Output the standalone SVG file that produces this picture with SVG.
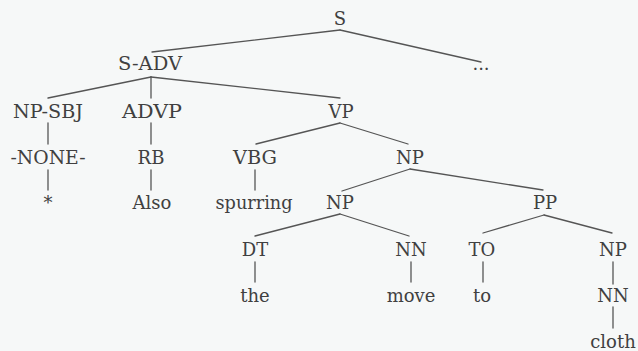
<svg xmlns="http://www.w3.org/2000/svg" width="638" height="351" viewBox="0 0 638 351">
  <style>
    .bg { fill: #f6f8f8; }
    .lbl { font-family: 'DejaVu Serif', 'Liberation Serif', 'Times New Roman', serif; font-size: 18px; fill: #404040; text-anchor: middle; }
    .edge { stroke: #555; stroke-width: 1.3; fill: none; stroke-linecap: round; }
  </style>
  <rect class="bg" x="0" y="0" width="638" height="351"/>

  <!-- tree edges -->
  <g id="connectors">
    <line class="edge" x1="340" y1="30" x2="152" y2="52"/>
    <line class="edge" x1="340" y1="30" x2="481" y2="62"/>
    <line class="edge" x1="151" y1="77" x2="48" y2="98"/>
    <line class="edge" x1="151" y1="77" x2="151" y2="98"/>
    <line class="edge" x1="151" y1="77" x2="340" y2="98"/>
    <line class="edge" x1="48" y1="123" x2="48" y2="144"/>
    <line class="edge" x1="151" y1="123" x2="151" y2="144"/>
    <line class="edge" x1="340" y1="123" x2="256" y2="144"/>
    <line class="edge" x1="340" y1="123" x2="408" y2="144"/>
    <line class="edge" x1="48" y1="170" x2="48" y2="190"/>
    <line class="edge" x1="151" y1="170" x2="151" y2="190"/>
    <line class="edge" x1="255" y1="170" x2="255" y2="190"/>
    <line class="edge" x1="410" y1="169" x2="342" y2="191"/>
    <line class="edge" x1="410" y1="169" x2="543" y2="190"/>
    <line class="edge" x1="340" y1="214" x2="255" y2="236"/>
    <line class="edge" x1="340" y1="214" x2="409" y2="236"/>
    <line class="edge" x1="544" y1="215" x2="483" y2="233"/>
    <line class="edge" x1="544" y1="215" x2="612" y2="233"/>
    <line class="edge" x1="255" y1="262" x2="255" y2="282"/>
    <line class="edge" x1="411" y1="262" x2="411" y2="282"/>
    <line class="edge" x1="483" y1="262" x2="483" y2="282"/>
    <line class="edge" x1="613" y1="262" x2="613" y2="284"/>
    <line class="edge" x1="613" y1="307" x2="613" y2="328"/>
  </g>

  <!-- nodes -->
  <g id="n-s"><text class="lbl" x="340" y="25">S</text></g>
  <g id="n-sadv"><text class="lbl" x="150" y="70" textLength="64" lengthAdjust="spacingAndGlyphs">S-ADV</text></g>
  <g id="n-more"><text class="lbl" x="481" y="70" font-size="13">...</text></g>
  <g id="n-npsbj"><text class="lbl" x="48" y="118" textLength="70" lengthAdjust="spacingAndGlyphs">NP-SBJ</text></g>
  <g id="n-advp"><text class="lbl" x="152" y="118" textLength="60" lengthAdjust="spacingAndGlyphs">ADVP</text></g>
  <g id="n-vp"><text class="lbl" x="341" y="118">VP</text></g>
  <g id="n-none"><text class="lbl" x="48" y="164" textLength="75" lengthAdjust="spacingAndGlyphs">-NONE-</text></g>
  <g id="n-rb"><text class="lbl" x="151" y="164">RB</text></g>
  <g id="n-vbg"><text class="lbl" x="255" y="164" textLength="44" lengthAdjust="spacingAndGlyphs">VBG</text></g>
  <g id="n-np1"><text class="lbl" x="410" y="164">NP</text></g>
  <g id="n-star"><text class="lbl" x="48" y="209">*</text></g>
  <g id="n-also"><text class="lbl" x="152" y="209">Also</text></g>
  <g id="n-spurring"><text class="lbl" x="254" y="209" textLength="77" lengthAdjust="spacingAndGlyphs">spurring</text></g>
  <g id="n-np2"><text class="lbl" x="340" y="209">NP</text></g>
  <g id="n-pp"><text class="lbl" x="545" y="209">PP</text></g>
  <g id="n-dt"><text class="lbl" x="255" y="256">DT</text></g>
  <g id="n-nn1"><text class="lbl" x="411" y="256">NN</text></g>
  <g id="n-to"><text class="lbl" x="482" y="256">TO</text></g>
  <g id="n-np3"><text class="lbl" x="613" y="256">NP</text></g>
  <g id="n-the"><text class="lbl" x="255" y="302">the</text></g>
  <g id="n-move"><text class="lbl" x="411" y="302">move</text></g>
  <g id="n-to-word"><text class="lbl" x="482" y="302">to</text></g>
  <g id="n-nn2"><text class="lbl" x="613" y="302">NN</text></g>
  <g id="n-cloth"><text class="lbl" x="613" y="348">cloth</text></g>
</svg>
